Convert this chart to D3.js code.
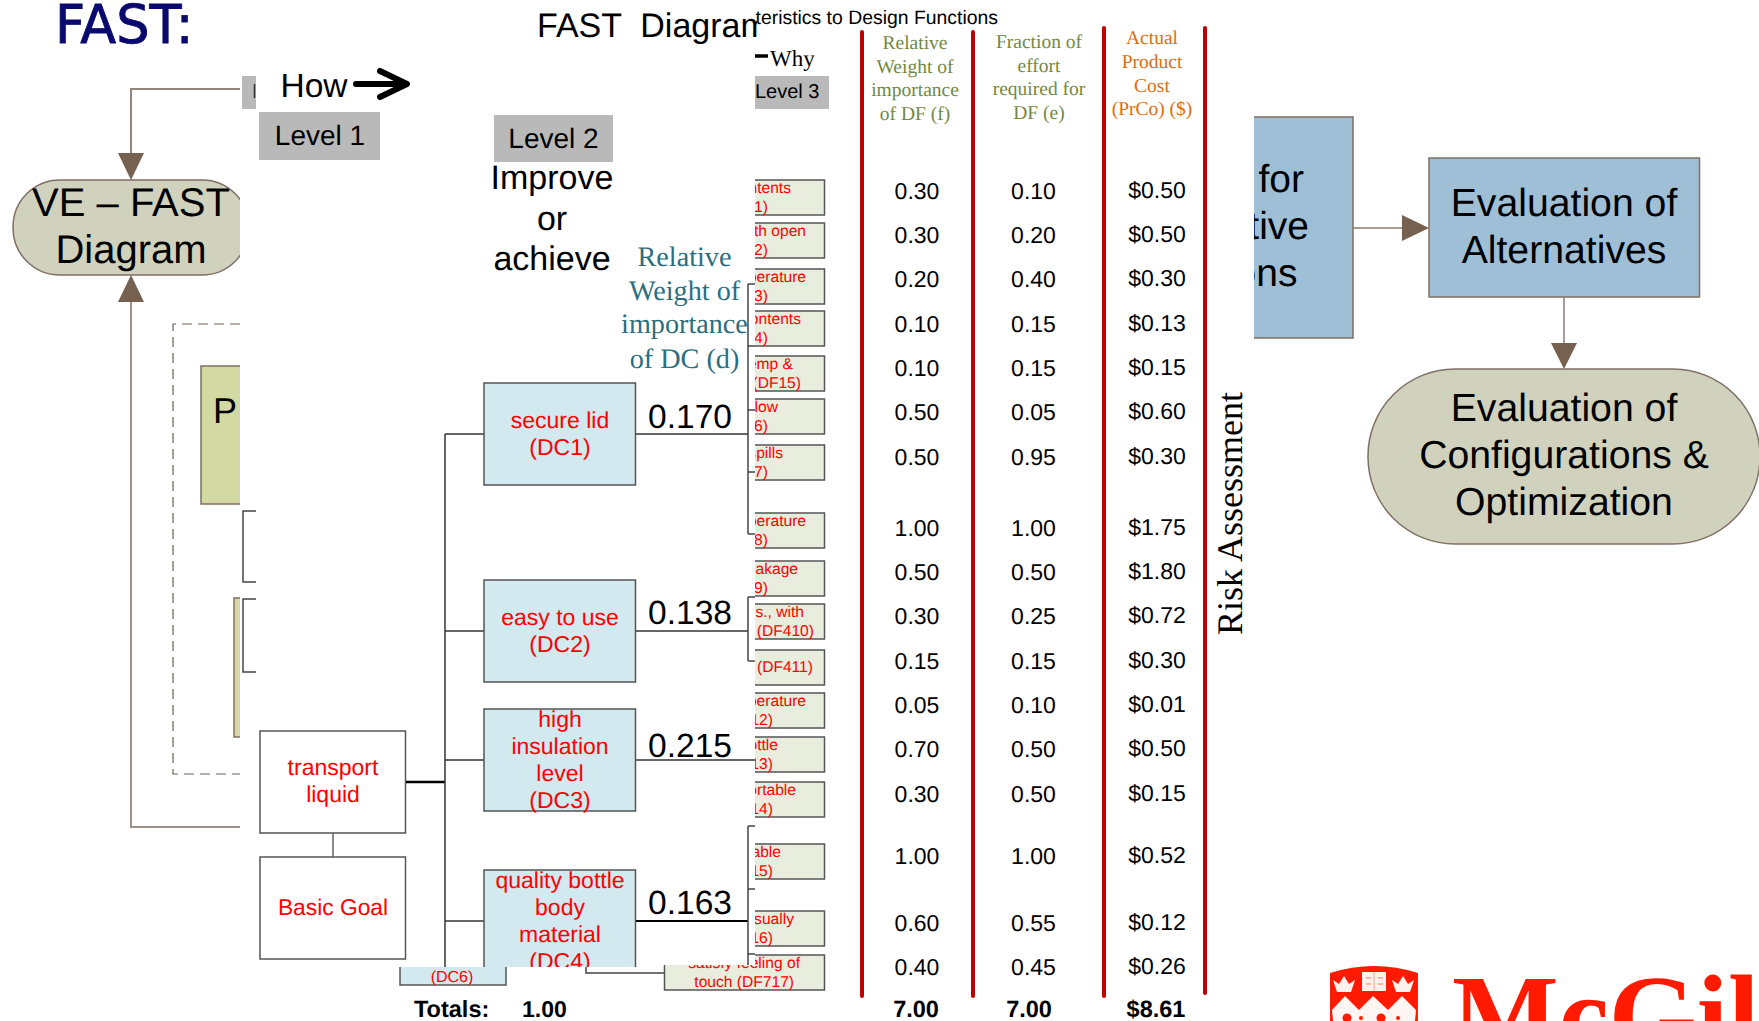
<!DOCTYPE html>
<html>
<head>
<meta charset="utf-8">
<script src="https://d3js.org/d3.v7.min.js"></script>
<style>
  html, body { margin: 0; padding: 0; background: #fff; overflow: hidden; }
  svg { display: block; text-rendering: geometricPrecision; }
</style>
</head>
<body>
<div id="chart"></div>
<script>
// Values
var dcNames = [
    ['secure lid', '(DC1)'],
    ['easy to use', '(DC2)'],
    ['high', 'insulation', 'level', '(DC3)'],
    ['quality bottle', 'body', 'material', '(DC4)']
];
var dcWeights = [0.170, 0.138, 0.215, 0.163];
var dfLine1 = ['contents', 'with open', 'temperature', 'contents', 'temp &', 'flow', 'spills', 'temperature', 'leakage',
    'lbs., with', '', 'temperature', 'bottle', 'portable', 'table', 'visually', 'satisfy feeling of'];
var dfLine2 = ['(DF1)', '(DF2)', '(DF3)', '(DF4)', '(DF15)', '(DF6)', '(DF7)', '(DF8)', '(DF9)',
    '(DF410)', '(DF411)', '(DF12)', '(DF13)', '(DF14)', '(DF15)', '(DF16)', 'touch (DF717)'];
var dfWeights = [0.30, 0.30, 0.20, 0.10, 0.10, 0.50, 0.50, 1.00, 0.50, 0.30, 0.15, 0.05, 0.70, 0.30, 1.00, 0.60, 0.40];
var dfEffort = [0.10, 0.20, 0.40, 0.15, 0.15, 0.05, 0.95, 1.00, 0.50, 0.25, 0.15, 0.10, 0.50, 0.50, 1.00, 0.55, 0.45];
var dfCost = [0.50, 0.50, 0.30, 0.13, 0.15, 0.60, 0.30, 1.75, 1.80, 0.72, 0.30, 0.01, 0.50, 0.15, 0.52, 0.12, 0.26];
var columns = ['f', 'e', 'cost'];
var columnTotals = [7.00, 7.00, 8.61];
var dcTotal = 1.00;

var SANS = '"Liberation Sans", Arial, sans-serif',
    SERIF = '"Liberation Serif", "Times New Roman", serif',
    RED = '#ff0000',
    ARROW = '#76604f',
    EDGE = '#7f6f65',
    LINK = '#333';

var width = 1759, height = 1021;

var svg = d3.select('#chart').append('svg')
    .attr('width', width)
    .attr('height', height);

// Rows are not evenly spaced, so the scale has a few breaks
var rowY = d3.scaleLinear()
    .domain([0, 6, 7, 13, 14, 15, 16])
    .range([191, 457, 528, 794, 856, 923, 967]);
var colX = d3.scaleOrdinal().domain(columns).range([917, 1033.5, 1157]);
var dcX = 484, dcW = 151.5,
    dcTop = d3.scaleOrdinal().domain([0, 1, 2, 3]).range([383, 580, 709, 870]),
    dcLink = d3.scaleOrdinal().domain([0, 1, 2, 3]).range([434, 631, 760, 921]);
// the level 3 boxes do not sit exactly on the table rows
var dfTops = [180, 223, 269, 311, 356, 399, 445, 513, 561, 604, 650, 693, 737, 782, 844, 911, 955];

// The source is a stack of cropped slides, these are the crop windows
var defs = svg.append('defs');
function addClip(id, rects) {
    var c = defs.append('clipPath').attr('id', id);
    rects.forEach(function(r) {
        c.append('rect').attr('x', r[0]).attr('y', r[1]).attr('width', r[2]).attr('height', r[3]);
    });
}
addClip('clipLeft', [[0, 0, 240, 1021]]);
addClip('clipTitle', [[0, 0, 757, 1021]]);
addClip('clipThird', [[755, 0, 400, 1021]]);
addClip('clipDF', [[755, 0, 200, 1021], [640, 965, 200, 56]]);
addClip('clipUpper', [[0, 0, 1759, 967]]);
addClip('clipLower', [[0, 967, 1759, 54]]);
addClip('clipRight', [[1254, 0, 200, 1021]]);

function label(parent, x, y, str, size, color, opts) {
    opts = opts || {};
    return parent.append('text')
        .attr('x', x)
        .attr('y', y)
        .attr('font-family', opts.family || SANS)
        .attr('font-size', size)
        .attr('font-weight', opts.weight || 'normal')
        .attr('text-anchor', opts.anchor || 'middle')
        .attr('fill', color)
        .style('white-space', 'pre')
        .text(str);
}

function box(parent, x, y, w, h, fill, stroke, sw, rx) {
    return parent.append('rect')
        .attr('x', x).attr('y', y)
        .attr('width', w).attr('height', h)
        .attr('rx', rx || 0).attr('ry', rx || 0)
        .attr('fill', fill)
        .attr('stroke', stroke)
        .attr('stroke-width', sw);
}

function poly(parent, pts, stroke, sw, fill) {
    return parent.append('path')
        .attr('d', d3.line()(pts) + (fill ? 'Z' : ''))
        .attr('fill', fill || 'none')
        .attr('stroke', stroke || 'none')
        .attr('stroke-width', sw || 0);
}

// ---- left flow panel ----
var left = svg.append('g').attr('clip-path', 'url(#clipLeft)');

poly(left, [[240, 89], [131, 89], [131, 155]], '#94857c', 2);
poly(left, [[118, 153], [144, 153], [131, 180]], null, 0, ARROW);
box(left, 13, 180, 236, 95, '#d0d2bd', EDGE, 1.5, 47);
label(left, 131, 216, 'VE \u2013 FAST', 40, '#000');
label(left, 131, 263, 'Diagram', 40, '#000');
poly(left, [[131, 300], [131, 827], [240, 827]], '#a09088', 2);
poly(left, [[131, 275], [118, 302], [144, 302]], null, 0, ARROW);
poly(left, [[240, 324], [173, 324], [173, 774], [240, 774]], '#6f6058', 1.2).attr('stroke-dasharray', '10,6');
box(left, 201, 366, 60, 138, '#d3d9a3', EDGE, 1.5);
label(left, 213, 423, 'P', 36, '#000', {anchor: 'start'});
box(left, 234, 598, 30, 139, '#d3d9a3', EDGE, 1.5);

svg.append('text')
    .attr('transform', 'translate(55,43) scale(0.98,1)')
    .attr('font-family', '"DejaVu Sans", sans-serif')
    .attr('font-size', 53.5)
    .attr('fill', '#0a0a6e')
    .attr('stroke', '#0a0a6e')
    .attr('stroke-width', 0.9)
    .text('FAST:');

// ---- small leftovers of the covered slide ----
box(svg, 242, 76, 14, 33, '#b9b9b9', 'none', 0);
poly(svg, [[254.5, 84], [254.5, 98]], '#333', 1.5);
poly(svg, [[256, 511], [243, 511], [243, 582], [256, 582]], '#444', 1.5);
poly(svg, [[256, 599], [243, 599], [243, 672], [256, 672]], '#444', 1.5);

// ---- how / levels ----
label(svg, 280.5, 97, 'How', 33.5, '#000', {anchor: 'start'});
poly(svg, [[356, 84], [406, 84]], '#000', 6).attr('stroke-linecap', 'round');
poly(svg, [[380, 71], [407, 84], [380, 97]], '#000', 6)
    .attr('stroke-linecap', 'round').attr('stroke-linejoin', 'round');

box(svg, 259, 112, 121, 48, '#b9b9b9', 'none', 0);
label(svg, 320, 145, 'Level 1', 28, '#000');
box(svg, 494, 115, 119, 47, '#b9b9b9', 'none', 0);
label(svg, 553.5, 148, 'Level 2', 28, '#000');

['Improve', 'or', 'achieve'].forEach(function(s, i) {
    label(svg, 552, [189, 230, 270][i], s, 34, '#000');
});
label(svg, 537, 37, 'FAST  Diagram', 34, '#000', {anchor: 'start'}).attr('clip-path', 'url(#clipTitle)');

['Relative', 'Weight of', 'importance', 'of DC (d)'].forEach(function(s, i) {
    label(svg, 684.5, [266, 300, 333, 368][i], s, 28.2, '#2a6f80', {family: SERIF});
});

// ---- level 1 goal boxes ----
box(svg, 260, 731, 145.5, 102, '#fff', '#555', 1.5);
label(svg, 333, 775, 'transport', 23, RED);
label(svg, 333, 802, 'liquid', 23, RED);
poly(svg, [[333, 833], [333, 857]], '#666', 1.5);
box(svg, 260, 857, 145.5, 102, '#fff', '#555', 1.5);
label(svg, 333, 915, 'Basic Goal', 22.8, RED);

// ---- tree links ----
poly(svg, [[406, 782], [445, 782]], '#000', 2.5);
poly(svg, [[445, 434], [445, 967]], LINK, 1.5);
dcWeights.forEach(function(w, i) {
    poly(svg, [[445, dcLink(i)], [dcX, dcLink(i)]], LINK, 1.5);
    poly(svg, [[dcX + dcW, dcLink(i)], [i === 2 ? 755 : 748, dcLink(i)]], i === 3 ? '#000' : LINK, i === 3 ? 2 : 1.5);
});

// brackets in front of the level 3 boxes
[[284, 346, 410, 472, 534], [597, 661], [826, 889, 954]].forEach(function(stubs) {
    poly(svg, [[748, stubs[0]], [748, d3.max(stubs)]], '#444', 1.5);
    stubs.forEach(function(y) {
        poly(svg, [[748, y], [755, y]], '#444', 1.5);
    });
});
poly(svg, [[748, 954], [748, 965]], '#444', 1.5);

// ---- DC boxes ----
var dc = svg.append('g').attr('clip-path', 'url(#clipUpper)');
dcNames.forEach(function(lines, i) {
    box(dc, dcX, dcTop(i), dcW, 102, '#d2e9ef', '#555', 1.5);
    var first = [428, 625, 727, 888][i];
    lines.forEach(function(s, j) {
        label(dc, 560, first + j * 27, s, 23, RED);
    });
    label(dc, 690, [428, 624, 757, 914][i], d3.format('.3f')(dcWeights[i]), 33.5, '#000');
});

var low = svg.append('g').attr('clip-path', 'url(#clipLower)');
box(low, 400, 900, 106, 85, '#d2e9ef', '#555', 1.5);
label(low, 452, 982, '(DC6)', 16, RED);
poly(low, [[586, 960], [586, 973], [665, 973]], '#444', 1.5);

// ---- DF boxes ----
var df = svg.append('g').attr('clip-path', 'url(#clipDF)');
var dfEnds1 = [791, 806, 806, 801, 793, 778, 783, 806, 798, 804, 0, 806, 778, 796, 781, 794, 800];
var dfEnds2 = [768, 768, 768, 768, 801, 768, 768, 768, 768, 814, 813, 773, 773, 773, 773, 773, 794];
dfLine2.forEach(function(s, i) {
    var top = dfTops[i];
    box(df, 664.5, top, 160, 35, '#e9eddd', '#555', 1.5);
    if (dfLine1[i]) {
        label(df, dfEnds1[i], top + 12.5, dfLine1[i], 15.6, RED, {anchor: 'end'});
    }
    label(df, dfEnds2[i], top + (dfLine1[i] ? 32 : 22), s, 15.6, RED, {anchor: 'end'});
});

// ---- level 3 header ----
var third = svg.append('g').attr('clip-path', 'url(#clipThird)');
label(third, 998, 24, 'Characteristics to Design Functions', 19.4, '#000', {anchor: 'end'});
box(third, 755, 76, 74, 33, '#b9b9b9', 'none', 0);
label(third, 755, 98, 'Level 3', 20, '#000', {anchor: 'start'});
poly(third, [[755, 56], [768, 56]], '#000', 3.5);
label(third, 770, 66, 'Why', 23, '#000', {anchor: 'start', family: SERIF});

// ---- table columns ----
[[862, 32, 996], [973, 32, 996], [1104, 28, 996], [1205, 28, 993]].forEach(function(r) {
    poly(svg, [[r[0], r[1]], [r[0], r[2]]], '#c00000', 4).attr('stroke-linecap', 'round');
});

var olive = '#71893f', orange = '#e36c0a';
['Relative', 'Weight of', 'importance', 'of DF (f)'].forEach(function(s, i) {
    label(svg, 915, [49, 73, 96, 120][i], s, 19.5, olive, {family: SERIF});
});
['Fraction of', 'effort', 'required for', 'DF (e)'].forEach(function(s, i) {
    label(svg, 1039, [48, 72, 95, 119][i], s, 19.5, olive, {family: SERIF});
});
['Actual', 'Product', 'Cost', '(PrCo) ($)'].forEach(function(s, i) {
    label(svg, 1152, [44, 68, 92, 115][i], s, 19.5, orange, {family: SERIF});
});

var f2 = d3.format('.2f'), usd = d3.format('$.2f');
[dfWeights, dfEffort, dfCost].forEach(function(series, k) {
    svg.append('g').selectAll('text')
        .data(series)
        .enter().append('text')
        .attr('x', colX(columns[k]))
        .attr('y', function(d, i) { return rowY(i) + (k === 2 ? 6.5 : 7.5); })
        .attr('text-anchor', 'middle')
        .attr('font-family', SANS)
        .attr('font-size', 23)
        .attr('fill', '#000')
        .text(function(d) { return k === 2 ? usd(d) : f2(d); });
});

columnTotals.forEach(function(t, k) {
    label(svg, [916, 1029, 1156][k], 1017, k === 2 ? usd(t) : f2(t), 23.5, '#000', {weight: 'bold'});
});
label(svg, 414, 1017, 'Totals:', 23.5, '#000', {anchor: 'start', weight: 'bold'});
label(svg, 522, 1017, f2(dcTotal), 23, '#000', {anchor: 'start', weight: 'bold'});

svg.append('text')
    .attr('transform', 'translate(1242,635) rotate(-90)')
    .attr('font-family', SERIF)
    .attr('font-size', 36)
    .attr('fill', '#000')
    .text('Risk Assessment');

// ---- right flow panel ----
var right = svg.append('g').attr('clip-path', 'url(#clipRight)');
box(right, 1200, 117, 153, 221, '#9fbfd7', EDGE, 1.5);
label(right, 1304, 192, 'for', 39, '#000', {anchor: 'end'});
label(right, 1309, 239, 'tive', 39, '#000', {anchor: 'end'});
label(right, 1297.5, 286, 'ons', 39, '#000', {anchor: 'end'});

poly(svg, [[1353, 228], [1404, 228]], '#8b7b70', 1.5);
poly(svg, [[1402, 215], [1402, 241], [1429, 228]], null, 0, ARROW);
box(svg, 1429, 158, 270.5, 139, '#9fbfd7', EDGE, 1.5);
label(svg, 1564, 216, 'Evaluation of', 39.2, '#000');
label(svg, 1564, 263, 'Alternatives', 39.2, '#000');
poly(svg, [[1564, 297], [1564, 344]], '#8b7b70', 1.5);
poly(svg, [[1551, 343], [1577, 343], [1564, 369]], null, 0, ARROW);
box(svg, 1368, 369, 392, 175, '#d0d2bd', EDGE, 1.5, 87);
label(svg, 1564, 421, 'Evaluation of', 39.2, '#000');
label(svg, 1564, 468, 'Configurations &', 39.2, '#000');
label(svg, 1564, 515, 'Optimization', 39.2, '#000');

// ---- crest and wordmark ----
var crest = svg.append('g');
crest.append('path')
    .attr('d', 'M1330,973Q1374,959 1418,973L1418,1021L1330,1021Z')
    .attr('fill', '#ff1a00');
crest.append('path')
    .attr('d', 'M1332,1010L1345,996L1359,1010L1373,996L1388,1010L1402,996L1416,1010L1415,1021L1333,1021Z')
    .attr('fill', '#fff6f3');
[1344, 1403].forEach(function(cx) {
    crest.append('path')
        .attr('d', 'M' + (cx - 11) + ',980L' + (cx - 5) + ',984L' + cx + ',976L' + (cx + 5) + ',984L' + (cx + 11) + ',980L' + (cx + 7) + ',992L' + (cx - 7) + ',992Z')
        .attr('fill', '#fff1ec');
});
box(crest, 1362, 972, 24, 19, '#fff1ec', 'none', 0);
poly(crest, [[1374, 972], [1374, 991]], '#f8a090', 1);
[[1366, 978], [1366, 984], [1378, 978], [1378, 984]].forEach(function(p) {
    poly(crest, [p, [p[0] + 5, p[1]]], '#f8a090', 1.5);
});
[[1347, 4.5], [1381, 4.5], [1361, 2], [1398, 2]].forEach(function(p) {
    crest.append('circle').attr('cx', p[0]).attr('cy', 1018).attr('r', p[1]).attr('fill', '#ff1a00');
});

label(svg, 1452, 1053, 'McGill', 113, '#ff1a00', {anchor: 'start', family: SERIF, weight: 'bold'});
</script>
</body>
</html>
